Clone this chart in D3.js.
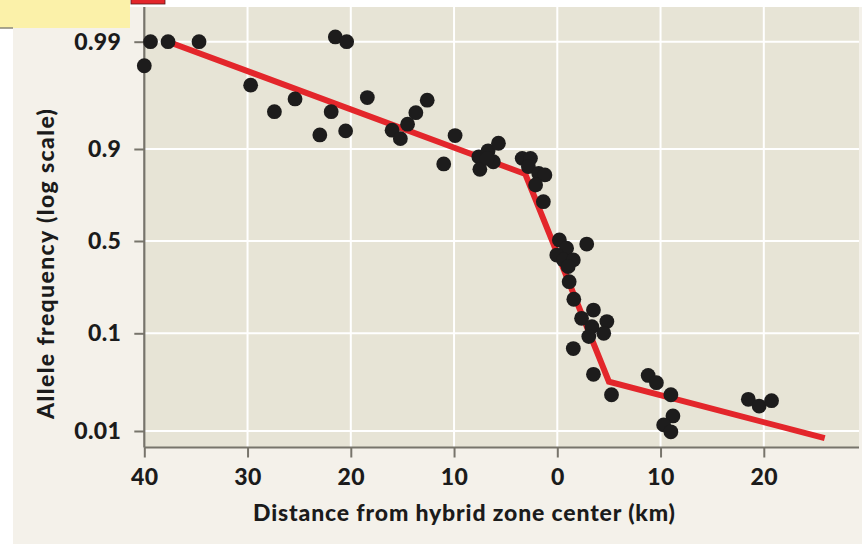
<!DOCTYPE html>
<html>
<head>
<meta charset="utf-8">
<script src="https://cdn.jsdelivr.net/npm/d3@7"></script>
<style>
  html,body{margin:0;padding:0;background:#ffffff;}
  #chartDiv{width:862px;height:544px;}
</style>
</head>
<body>
<div id="chartDiv"></div>
<script>
//---data---
var DistKm=[-40.0,-39.4,-37.7,-34.7,-29.7,-27.4,-25.4,-23.0,-21.9,-21.5,-20.4,-20.5,-18.4,-16.0,-15.2,-14.5,-13.7,-12.6,-9.9,-11.0,
  -7.6,-7.5,-6.7,-5.7,-6.2,-6.8,-3.4,-2.6,-2.8,-1.8,-1.2,-2.1,-1.35,0.2,0.9,-0.05,0.6,1.55,1.05,2.85,
  1.15,1.6,2.35,3.5,4.8,3.35,4.5,3.05,1.55,3.5,5.25,8.8,9.6,11.0,11.2,10.3,11.0,18.5,19.55,20.75]
var AlleleFreq=[0.983,0.99,0.99,0.99,0.974,0.954,0.965,0.925,0.954,0.991,0.99,0.931,0.966,0.932,0.919,0.94,0.953,0.964,0.924,0.863,
  0.882,0.847,0.896,0.911,0.869,0.878,0.878,0.878,0.855,0.834,0.829,0.792,0.719,0.506,0.457,0.417,0.389,0.389,0.352,0.482,
  0.275,0.2,0.137,0.162,0.128,0.115,0.1,0.093,0.071,0.039,0.024,0.038,0.032,0.024,0.0144,0.0116,0.0098,0.0215,0.0183,0.0208]
//---fitted cline (red)---
var LineKm=[-37.7,-3.1,5.0,25.9]
var LineFreq=[0.99,0.832,0.0328,0.0084]
//---ticks---
var XTickKm=[-40,-30,-20,-10,0,10,20]
var XTickLabels=["40","30","20","10","0","10","20"]
var YTickFreq=[0.01,0.1,0.5,0.9,0.99]
var YTickLabels=["0.01","0.1","0.5","0.9","0.99"]

var Width=862
var Height=544
var PlotLeft=144.3
var PlotRight=859
var PlotTop=7
var PlotBottom=447.5
var Font="Lato, 'Open Sans', sans-serif"

var logit=function(p){return Math.log(p/(1-p))}

var XScale=d3.scaleLinear().domain([-40,20]).range([PlotLeft,763.8])
//---piecewise scale on logit values, matches the uneven tick spacing---
var YScale=d3.scaleLinear().domain(YTickFreq.map(logit)).range([431,333.3,241,149,41.7])
var yOf=function(f){return YScale(logit(f))}

var ChartSVG=d3.select("#chartDiv").append("svg")
  .attr("width",Width).attr("height",Height)
  .attr("viewBox","0 0 "+Width+" "+Height)

//---panel background---
ChartSVG.append("rect")
  .attr("x",13).attr("y",7).attr("width",Width-13).attr("height",Height-7)
  .attr("fill","#f4f1ea")

//---corner tabs (cut off in the figure)---
ChartSVG.append("rect")
  .attr("x",-2).attr("y",-2).attr("width",132).attr("height",30)
  .attr("fill","#fbf1a9")
ChartSVG.append("line")
  .attr("x1",0).attr("y1",28).attr("x2",13).attr("y2",28)
  .attr("stroke","#8a8778").attr("stroke-width",1.5)
ChartSVG.append("rect")
  .attr("x",131).attr("y",-2).attr("width",34).attr("height",6)
  .attr("fill","#e3262b").attr("stroke","#5a1a1a").attr("stroke-width",0.8)

//---plot area---
ChartSVG.append("rect")
  .attr("x",PlotLeft).attr("y",PlotTop)
  .attr("width",PlotRight-PlotLeft).attr("height",PlotBottom-PlotTop)
  .attr("fill","#e7e4d6")

//---grid---
var GridG=ChartSVG.append("g").attr("stroke","#ffffff").attr("stroke-width",2)
GridG.selectAll("line.h").data(YTickFreq).enter().append("line")
  .attr("class","h")
  .attr("x1",PlotLeft).attr("x2",PlotRight)
  .attr("y1",function(d){return yOf(d)}).attr("y2",function(d){return yOf(d)})
GridG.selectAll("line.v").data(XTickKm.slice(1)).enter().append("line")
  .attr("class","v")
  .attr("x1",function(d){return XScale(d)}).attr("x2",function(d){return XScale(d)})
  .attr("y1",PlotTop).attr("y2",PlotBottom)

//---axes---
var XAxis=d3.axisBottom(XScale).tickValues(XTickKm)
  .tickFormat(function(d,i){return XTickLabels[i]})
  .tickSize(10).tickPadding(11).tickSizeOuter(0)
var XAxisG=ChartSVG.append("g")
  .attr("transform","translate(0,"+PlotBottom+")")
  .call(XAxis)
XAxisG.select(".domain").attr("d","M"+PlotLeft+",0H"+PlotRight)

var YAxis=d3.axisLeft(YScale).tickValues(YTickFreq.map(logit))
  .tickFormat(function(d,i){return YTickLabels[i]})
  .tickSize(10).tickPadding(13).tickSizeOuter(0)
var YAxisG=ChartSVG.append("g")
  .attr("transform","translate("+PlotLeft+",0)")
  .call(YAxis)
YAxisG.select(".domain").attr("d","M0,"+PlotTop+"V"+PlotBottom)

ChartSVG.selectAll(".domain").attr("stroke","#77746b").attr("stroke-width",2.2)
ChartSVG.selectAll(".tick line").attr("stroke","#77746b").attr("stroke-width",2)
ChartSVG.selectAll(".tick text")
  .attr("fill","#1b1b1b")
  .style("font-family",Font)
  .style("font-size","23px")
  .style("letter-spacing","0.4px")
  .style("font-weight","900")

//---axis titles (stretched to the printed width)---
ChartSVG.append("text")
  .attr("x",464).attr("y",521)
  .attr("text-anchor","middle")
  .attr("fill","#1b1b1b")
  .attr("textLength",422).attr("lengthAdjust","spacing")
  .style("font-family",Font).style("font-size","23px").style("font-weight","900")
  .text("Distance from hybrid zone center (km)")
ChartSVG.append("text")
  .attr("transform","translate(54,264) rotate(-90)")
  .attr("text-anchor","middle")
  .attr("fill","#1b1b1b")
  .attr("textLength",310).attr("lengthAdjust","spacing")
  .style("font-family",Font).style("font-size","23px").style("font-weight","900")
  .text("Allele frequency (log scale)")

//---fitted line---
var clineLine=d3.line()
  .x(function(d,i){return XScale(LineKm[i])})
  .y(function(d,i){return yOf(LineFreq[i])})
ChartSVG.append("path")
  .datum(LineKm)
  .attr("d",clineLine)
  .attr("fill","none")
  .attr("stroke","#e3262b")
  .attr("stroke-width",6)
  .attr("stroke-linejoin","miter")

//---points---
ChartSVG.append("g").selectAll("circle").data(DistKm).enter().append("circle")
  .attr("cx",function(d){return XScale(d)})
  .attr("cy",function(d,i){return yOf(AlleleFreq[i])})
  .attr("r",7.4)
  .attr("fill","#1d1c1c")
</script>
</body>
</html>
